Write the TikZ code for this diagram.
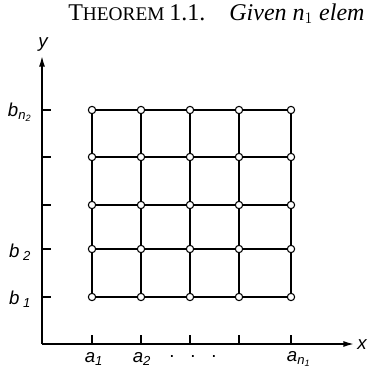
\documentclass[tikz,border=0pt]{standalone}
\usepackage{fontspec}
\setmainfont{Liberation Serif}
\newfontfamily\lblfont{Liberation Sans}
\usetikzlibrary{arrows.meta}
\begin{document}
\begin{tikzpicture}[x=0.75pt,y=-0.75pt,
  gridline/.style={line width=1.8pt},
  axisline/.style={line width=1.1pt},
  vtx/.style={circle,draw,fill=white,line width=0.8pt,inner sep=0pt,minimum size=5.5pt},
  lbl/.style={font=\lblfont\itshape\fontsize{14}{15}\selectfont,inner sep=0pt},
  tickmark/.style={line width=1pt}]
\useasboundingbox (0,0) rectangle (368,371);
\begin{scope}
\clip (0,0) rectangle (368,371);
\node[anchor=base west,inner sep=0pt] (head) at (68,20)
  {\fontsize{18}{20}\selectfont T\fontsize{14.5}{16}\selectfont HEOREM \fontsize{18}{20}\selectfont 1.1.\hspace{1em}\textit{Given $\mathit{n}_1$ elem}};
\end{scope}
% axes
\coordinate (O) at (42,344);
\coordinate (ytop) at (42,56);
\coordinate (xend) at (354,344);
\draw[axisline,-{Latex[length=8pt,width=4.5pt]}] (O) -- (ytop);
\draw[axisline,-{Latex[length=8pt,width=4.5pt]}] (O) -- (xend);
\node[lbl] (ylab) at (43,45) {y};
\node[lbl] (xlab) at (362,345) {x};
% grid
\def\xs{{92,141,190,239,291}}
\def\ys{{110,157,205,249,297}}
\foreach \i in {0,...,4}{
  \pgfmathsetmacro{\xx}{\xs[\i]}
  \pgfmathsetmacro{\yy}{\ys[\i]}
  \coordinate (tx\i) at (\xx,344);
  \coordinate (ty\i) at (42,\yy);
  \draw[tickmark] (tx\i) -- ++(0,-9);
  \draw[tickmark] (ty\i) -- ++(9,0);
  \foreach \j in {0,...,4}{
    \pgfmathsetmacro{\yyy}{\ys[\j]}
    \coordinate (p\i\j) at (\xx,\yyy);
  }
}
\foreach \i in {0,...,4}{
  \draw[gridline] (p\i0) -- (p\i4);
  \draw[gridline] (p0\i) -- (p4\i);
}
\foreach \i in {0,...,4}{
  \foreach \j in {0,...,4}{
    \node[vtx] (v\i\j) at (p\i\j) {};
  }
}
% labels
\node[lbl] (a1) at (94,359) {a\textsubscript{1}};
\node[lbl] (a2) at (142,359) {a\textsubscript{2}};
\node[lbl,font=\lblfont\fontsize{14}{14}\selectfont] (dots) at (193,356) {.\hspace{0.85em}.\hspace{0.85em}.};
\node[lbl] (an) at (299,359) {a\textsubscript{n\textsubscript{1}}};
\node[lbl] (bn) at (20,112) {b\textsubscript{n\textsubscript{2}}};
\node[lbl] (b2) at (20,252) {b\textsubscript{ 2}};
\node[lbl] (b1) at (20,299) {b\textsubscript{ 1}};
\end{tikzpicture}
\end{document}
